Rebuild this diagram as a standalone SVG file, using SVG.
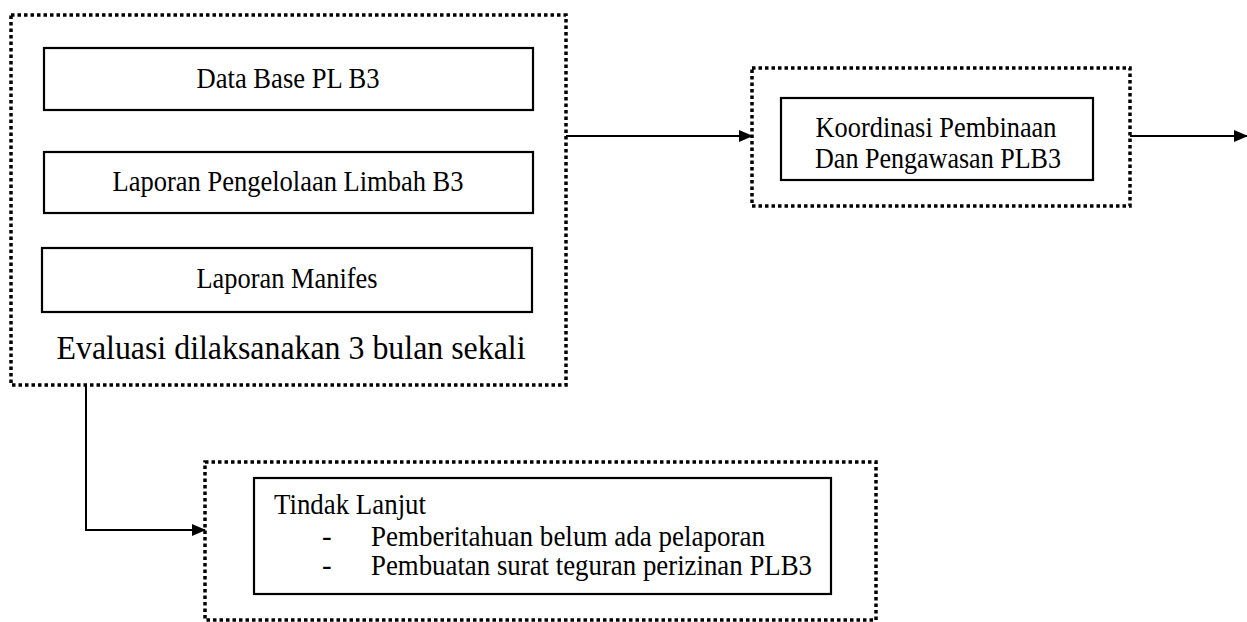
<svg xmlns="http://www.w3.org/2000/svg" width="1247" height="622" viewBox="0 0 1247 622">
<defs>
<style>
.dot{fill:none;stroke:#000;stroke-width:3.5;stroke-dasharray:3.5 3}
.box{fill:none;stroke:#000;stroke-width:2.2}
.t{font-family:"Liberation Serif","Times New Roman",serif;font-size:29px;fill:#000}
.c{text-anchor:middle}
.ln{fill:none;stroke:#000;stroke-width:2}
</style>
<marker id="ah" markerWidth="14" markerHeight="12" refX="13" refY="6" orient="auto" markerUnits="userSpaceOnUse">
<path d="M0,0 L14,6 L0,12 z" fill="#000"/>
</marker>
</defs>
<rect width="1247" height="622" fill="#fff"/>
<g id="evaluasi">
<rect class="dot" x="11" y="15" width="555" height="370"/>
<g id="database"><rect class="box" x="44" y="48" width="489" height="62"/><text class="t c" x="288" y="88" textLength="183" lengthAdjust="spacingAndGlyphs">Data Base PL B3</text></g>
<g id="laporan-pengelolaan"><rect class="box" x="44" y="152" width="489" height="61"/><text class="t c" x="288" y="191" textLength="351" lengthAdjust="spacingAndGlyphs">Laporan Pengelolaan Limbah B3</text></g>
<g id="laporan-manifes"><rect class="box" x="42" y="248" width="490" height="64"/><text class="t c" x="287" y="288" textLength="181" lengthAdjust="spacingAndGlyphs">Laporan Manifes</text></g>
<text class="t c" x="291" y="359" style="font-size:33px" textLength="469" lengthAdjust="spacingAndGlyphs">Evaluasi dilaksanakan 3 bulan sekali</text>
</g>
<g id="koordinasi">
<rect class="dot" x="752" y="68" width="378" height="138"/>
<rect class="box" x="781" y="98" width="312" height="82"/>
<text class="t c" x="936" y="137" textLength="241" lengthAdjust="spacingAndGlyphs">Koordinasi Pembinaan</text>
<text class="t c" x="938" y="168" textLength="246" lengthAdjust="spacingAndGlyphs">Dan Pengawasan PLB3</text>
</g>
<g id="tindak-lanjut">
<rect class="dot" x="205" y="462" width="671" height="158"/>
<rect class="box" x="254" y="478" width="577" height="116"/>
<text class="t" x="274" y="514" textLength="152" lengthAdjust="spacingAndGlyphs">Tindak Lanjut</text>
<text class="t" x="322" y="546">-</text>
<text class="t" x="371" y="546" textLength="394" lengthAdjust="spacingAndGlyphs">Pemberitahuan belum ada pelaporan</text>
<text class="t" x="322" y="575">-</text>
<text class="t" x="371" y="575" textLength="441" lengthAdjust="spacingAndGlyphs">Pembuatan surat teguran perizinan PLB3</text>
</g>
<g id="connectors">
<line class="ln" x1="566" y1="136" x2="752" y2="136" marker-end="url(#ah)"/>
<line class="ln" x1="1130" y1="136" x2="1247" y2="136" marker-end="url(#ah)"/>
<polyline class="ln" points="86,385 86,530 205,530" marker-end="url(#ah)"/>
</g>
</svg>
